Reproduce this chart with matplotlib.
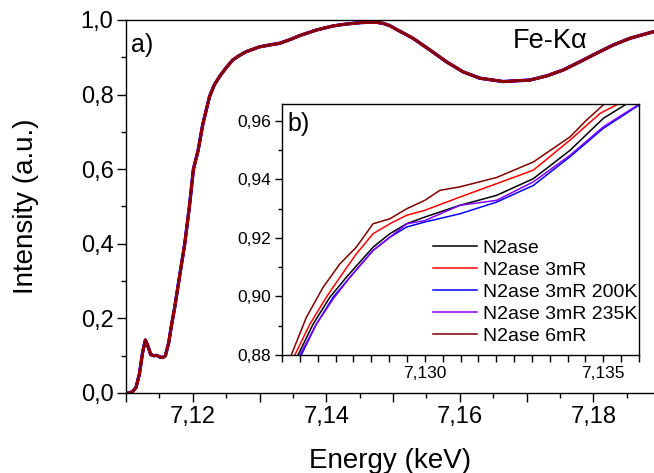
import matplotlib
matplotlib.use("Agg")
import matplotlib.pyplot as plt
from matplotlib.ticker import MultipleLocator, FuncFormatter, FixedLocator

plt.rcParams['font.family'] = ['Liberation Sans', 'DejaVu Sans']

# ---------------- data ----------------
main_energy = [7.1100, 7.1105, 7.1110, 7.1115, 7.1120, 7.1125, 7.1129, 7.1133, 7.1137,
               7.1142, 7.1146, 7.1150, 7.1155, 7.1159, 7.1164, 7.1168, 7.1173, 7.1180,
               7.1188, 7.1195, 7.1201, 7.1208, 7.1215, 7.1225, 7.1232, 7.1240, 7.1250,
               7.1260, 7.1270, 7.1280, 7.1300, 7.1315, 7.1330, 7.1345, 7.1360, 7.1385,
               7.1410, 7.1425, 7.1440, 7.1452, 7.1465, 7.1475, 7.1485, 7.1495, 7.1505,
               7.1530, 7.1555, 7.1580, 7.1605, 7.1630, 7.1665, 7.1705, 7.1730, 7.1755,
               7.1780, 7.1805, 7.1830, 7.1855, 7.1891]
main_intensity = [0.000, 0.000, 0.004, 0.015, 0.050, 0.110, 0.142, 0.125, 0.103,
                  0.100, 0.101, 0.097, 0.095, 0.100, 0.135, 0.180, 0.230, 0.310,
                  0.400, 0.500, 0.600, 0.650, 0.720, 0.794, 0.825, 0.848, 0.872,
                  0.893, 0.905, 0.915, 0.928, 0.933, 0.9375, 0.947, 0.958, 0.973,
                  0.984, 0.988, 0.991, 0.993, 0.994, 0.994, 0.991, 0.985, 0.975,
                  0.951, 0.920, 0.888, 0.861, 0.844, 0.835, 0.839, 0.850, 0.866,
                  0.888, 0.911, 0.933, 0.951, 0.969]

series_names = ["N2ase", "N2ase 3mR", "N2ase 3mR 200K", "N2ase 3mR 235K", "N2ase 6mR"]
series_colors = ["#000000", "#ff0000", "#0000ff", "#8000ff", "#800000"]

n2ase_e = [7.12645, 7.12687, 7.12734, 7.12780, 7.12855, 7.12902, 7.12949, 7.13000,
           7.13098, 7.13201, 7.13304, 7.13407, 7.13500, 7.13565]
n2ase_i = [0.8800, 0.8905, 0.8997, 0.9065, 0.9168, 0.9214, 0.9248, 0.9271,
           0.9311, 0.9345, 0.9402, 0.9499, 0.9608, 0.9657]

n2ase3_e = [7.12636, 7.12678, 7.12724, 7.12762, 7.12808, 7.12855, 7.12902, 7.12949,
            7.13000, 7.13098, 7.13201, 7.13304, 7.13407, 7.13491, 7.13542]
n2ase3_i = [0.8800, 0.8905, 0.8997, 0.9065, 0.9145, 0.9214, 0.9248, 0.9277,
            0.9294, 0.9339, 0.9385, 0.9431, 0.9534, 0.9625, 0.9657]

n2ase3_200_e = [7.12654, 7.12696, 7.12743, 7.12790, 7.12855, 7.12902, 7.12949, 7.13000,
                7.13098, 7.13201, 7.13304, 7.13407, 7.13500, 7.13601]
n2ase3_200_i = [0.8800, 0.8905, 0.8997, 0.9065, 0.9157, 0.9202, 0.9237, 0.9254,
                0.9282, 0.9322, 0.9379, 0.9477, 0.9574, 0.9654]

n2ase3_235_e = [7.12650, 7.12696, 7.12743, 7.12790, 7.12855, 7.12902, 7.12949, 7.13000,
                7.13098, 7.13201, 7.13304, 7.13407, 7.13500, 7.13601]
n2ase3_235_i = [0.8800, 0.8905, 0.8991, 0.9065, 0.9157, 0.9202, 0.9248, 0.9259,
                0.9311, 0.9328, 0.9391, 0.9482, 0.9579, 0.9657]

n2ase6_e = [7.12626, 7.12668, 7.12715, 7.12762, 7.12808, 7.12855, 7.12902, 7.12949,
            7.13000, 7.13042, 7.13098, 7.13201, 7.13304, 7.13407, 7.13453, 7.13500]
n2ase6_i = [0.8800, 0.8928, 0.9031, 0.9111, 0.9168, 0.9248, 0.9265, 0.9299,
            0.9328, 0.9362, 0.9374, 0.9406, 0.9459, 0.9545, 0.9602, 0.9654]

inset_series = [(n2ase_e, n2ase_i), (n2ase3_e, n2ase3_i), (n2ase3_200_e, n2ase3_200_i),
                (n2ase3_235_e, n2ase3_235_i), (n2ase6_e, n2ase6_i)]

main_xticks = [7.12, 7.14, 7.16, 7.18]
inset_xticks = [7.130, 7.135]

# ---------------- figure ----------------
W, H = 654, 473
fig = plt.figure(figsize=(W / 100, H / 100), dpi=100)

def comma(fmt):
    return FuncFormatter(lambda v, p: (fmt % v).replace('.', ','))

# main axes
ax = fig.add_axes([126 / W, 1 - 393 / H, (W - 126) / W, (393 - 20) / H])
for col, lw in [("#0000ff", 2.4), ("#8000ff", 2.2), ("#000000", 2.0), ("#ff0000", 1.9), ("#800000", 1.6)]:
    ax.plot(main_energy, main_intensity, color=col, lw=lw, solid_joinstyle='round')

ax.set_xlim(7.11, 7.1891)
ax.set_ylim(0.0, 1.0)
ax.spines['right'].set_visible(False)
for s in ['left', 'bottom', 'top']:
    ax.spines[s].set_linewidth(1.0)
ax.xaxis.set_major_locator(MultipleLocator(0.01))
ax.xaxis.set_minor_locator(MultipleLocator(0.005))
ax.xaxis.set_major_formatter(FuncFormatter(
    lambda v, p: ("%.2f" % v).replace('.', ',') if any(abs(v - t) < 1e-6 for t in main_xticks) else ""))
ax.yaxis.set_major_locator(MultipleLocator(0.2))
ax.yaxis.set_minor_locator(MultipleLocator(0.1))
ax.yaxis.set_major_formatter(comma("%.1f"))
ax.tick_params(which='major', direction='out', length=6.5, width=1.0, labelsize=17, pad=2.5)
ax.tick_params(which='minor', direction='out', length=3.5, width=1.0)
ax.tick_params(top=False, right=False, which='both')
ax.set_xlabel("Energy (keV)", fontsize=20, labelpad=15)
ax.set_ylabel("Intensity (a.u.)", fontsize=20, labelpad=30)
ax.text(131 / W, 1 - 52 / H, "a)", transform=fig.transFigure, fontsize=18, ha='left', va='baseline')
ax.text(513 / W, 1 - 48 / H, "Fe-K\u03b1", transform=fig.transFigure, fontsize=19.5,
        ha='left', va='baseline')

# inset axes
ai = fig.add_axes([282 / W, 1 - 355 / H, (639 - 282) / W, (355 - 104) / H])
ai.set_facecolor('white')
for (e, i), name, col in zip(inset_series, series_names, series_colors):
    ai.plot(e, i, color=col, lw=1.1, label=name)
ai.set_xlim(7.126, 7.1360)
ai.set_ylim(0.88, 0.9657)
for s in ai.spines.values():
    s.set_linewidth(1.0)
ai.xaxis.set_major_locator(FixedLocator(inset_xticks))
ai.xaxis.set_minor_locator(MultipleLocator(0.0005))
ai.xaxis.set_major_formatter(comma("%.3f"))
ai.yaxis.set_major_locator(MultipleLocator(0.02))
ai.yaxis.set_minor_locator(MultipleLocator(0.01))
ai.yaxis.set_major_formatter(comma("%.2f"))
ai.tick_params(which='major', direction='out', length=5, width=1.0, labelsize=12.5, pad=3)
ai.tick_params(which='minor', direction='out', length=5, width=1.0)
ai.tick_params(axis='y', which='minor', length=3)
ai.text(0.015, 0.97, "b)", transform=ai.transAxes, fontsize=18, ha='left', va='top')
leg = ai.legend(loc='upper left', bbox_to_anchor=((433 - 282) / (639 - 282), (355 - 239) / (355 - 104)),
                frameon=False, fontsize=14, handlelength=2.25, handletextpad=0.3,
                labelspacing=0.23, borderpad=0, borderaxespad=0)

fig.savefig("out.png", dpi=100)
